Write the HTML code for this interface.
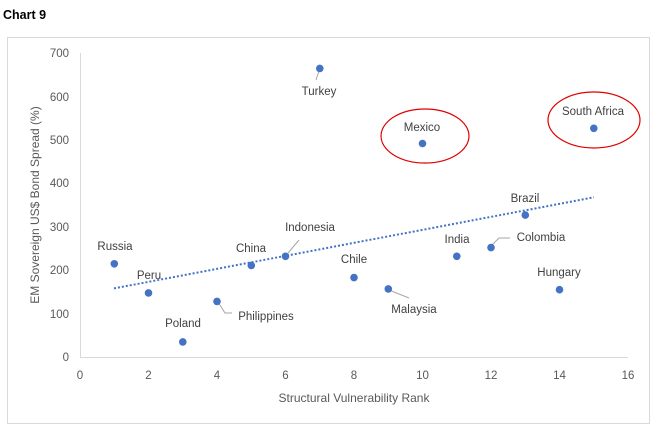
<!DOCTYPE html>
<html><head><style>
body{margin:0;background:#fff;}
svg{display:block;font-family:"Liberation Sans",sans-serif;}
</style></head><body>
<svg width="658" height="431" viewBox="0 0 658 431">
<text x="3" y="19" font-size="12.5" font-weight="bold" fill="#000">Chart 9</text>
<rect x="7.5" y="37.5" width="642" height="386" fill="#fff" stroke="#d9d9d9"/>
<g font-size="11.5" fill="#595959">
<line x1="80.5" y1="53" x2="80.5" y2="357" stroke="#d9d9d9"/>
<line x1="80" y1="357.5" x2="628" y2="357.5" stroke="#d9d9d9"/>
<g text-anchor="end">
<text x="69" y="361">0</text><text x="69" y="318">100</text><text x="69" y="274">200</text><text x="69" y="231">300</text><text x="69" y="187">400</text><text x="69" y="144">500</text><text x="69" y="101">600</text><text x="69" y="57">700</text>
</g>
<g text-anchor="middle">
<text x="80" y="379">0</text><text x="148.5" y="379">2</text><text x="217" y="379">4</text><text x="285.5" y="379">6</text><text x="354" y="379">8</text><text x="422.5" y="379">10</text><text x="491" y="379">12</text><text x="559.5" y="379">14</text><text x="628" y="379">16</text>
<text x="354" y="402" font-size="12">Structural Vulnerability Rank</text>
<text transform="translate(39,205) rotate(-90)" font-size="12">EM Sovereign US$ Bond Spread (%)</text>
</g>
</g>
<line x1="114" y1="288.4" x2="594" y2="197.3" stroke="#4472c4" stroke-width="2" stroke-dasharray="2,2"/>
<g stroke="#a6a6a6" fill="none">
<path d="M319 71 L316 80"/>
<path d="M288 253 L299 240"/>
<path d="M218 302 L225 313 L232 313"/>
<path d="M389 290 L409 298"/>
<path d="M492 245 L499 238 L510 238"/>
</g>
<g fill="#4472c4">
<circle cx="114.3" cy="263.8" r="3.8"/>
<circle cx="148.5" cy="292.9" r="3.8"/>
<circle cx="182.8" cy="341.9" r="3.8"/>
<circle cx="217" cy="301.4" r="3.8"/>
<circle cx="251.3" cy="265.4" r="3.8"/>
<circle cx="285.5" cy="256.3" r="3.8"/>
<circle cx="319.8" cy="68.4" r="3.8"/>
<circle cx="354" cy="277.6" r="3.8"/>
<circle cx="388.3" cy="288.9" r="3.8"/>
<circle cx="422.5" cy="143.5" r="3.8"/>
<circle cx="456.8" cy="256.3" r="3.8"/>
<circle cx="491" cy="247.6" r="3.8"/>
<circle cx="525.3" cy="215.1" r="3.8"/>
<circle cx="559.5" cy="289.7" r="3.8"/>
<circle cx="593.8" cy="128.3" r="3.8"/>
</g>
<g font-size="11.5" fill="#404040" text-anchor="middle">
<text x="115" y="250">Russia</text>
<text x="149" y="279">Peru</text>
<text x="183" y="327">Poland</text>
<text x="266" y="320">Philippines</text>
<text x="251" y="252">China</text>
<text x="310" y="231">Indonesia</text>
<text x="319" y="95">Turkey</text>
<text x="354" y="263">Chile</text>
<text x="414" y="313">Malaysia</text>
<text x="422" y="131">Mexico</text>
<text x="457" y="243">India</text>
<text x="541" y="241">Colombia</text>
<text x="525" y="202">Brazil</text>
<text x="559" y="276">Hungary</text>
<text x="593" y="115">South Africa</text>
</g>
<ellipse cx="425" cy="136" rx="44" ry="27" fill="none" stroke="#e00000" stroke-width="1.2"/>
<ellipse cx="594" cy="120" rx="46" ry="28" fill="none" stroke="#e00000" stroke-width="1.2"/>
</svg>
</body></html>
